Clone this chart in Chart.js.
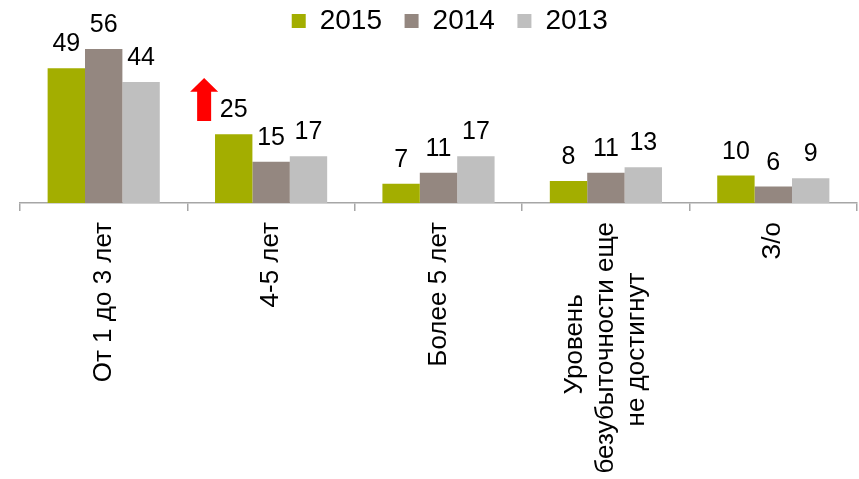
<!DOCTYPE html>
<html>
<head>
<meta charset="utf-8">
<script src="https://cdn.jsdelivr.net/npm/chart.js@4"></script>
<style>
body { margin: 0; background: #fff; }
#wrap { width: 859px; height: 479px; }
</style>
</head>
<body>
<div id="wrap"><canvas id="chart" width="859" height="479"></canvas></div>
<script>
// data
const categories = [
    ['От 1 до 3 лет'],
    ['4-5 лет'],
    ['Более 5 лет'],
    ['Уровень', 'безубыточности еще', 'не достигнут'],
    ['З/о']
];
const years = ['2015', '2014', '2013'];
const values2015 = [49, 25, 7, 8, 10];
const values2014 = [56, 15, 11, 11, 6];
const values2013 = [44, 17, 17, 13, 9];
const colors = ['#a3ae00', '#948780', '#bfbfbf'];

const family = "'Liberation Sans', Arial, sans-serif";
const nbsp = '\u00A0';

// center multi-line labels: rotated ticks are always right aligned, so pad the short lines
const measure = document.createElement('canvas').getContext('2d');
measure.font = '26px ' + family;
function centerLines(lines) {
    const widths = lines.map(l => measure.measureText(l).width);
    const maxW = Math.max(...widths);
    const sp = measure.measureText(nbsp).width;
    return lines.map((l, i) => l + nbsp.repeat(Math.round((maxW - widths[i]) / 2 / sp)));
}
// single line labels get an empty first line, so labelOffset below puts them back on the tick
const tickLabels = categories.map(c => c.length === 1 ? ['', c[0]] : centerLines(c));

// numbers above the bars
const valueLabels = {
    id: 'valueLabels',
    afterDatasetsDraw(chart) {
        const ctx = chart.ctx;
        ctx.save();
        ctx.font = '25px ' + family;
        ctx.fillStyle = '#000';
        ctx.textAlign = 'center';
        ctx.textBaseline = 'alphabetic';
        chart.data.datasets.forEach((ds, i) => {
            chart.getDatasetMeta(i).data.forEach((bar, j) => {
                ctx.fillText(ds.data[j], bar.x, bar.y - 17);
            });
        });
        ctx.restore();
    }
};

// red arrow next to "4-5 лет"
const upArrow = {
    id: 'upArrow',
    afterDatasetsDraw(chart) {
        const x = chart.scales.x, y = chart.scales.y;
        const catW = (x.right - x.left) / categories.length;
        const cx = x.getPixelForValue(1) - catW * 0.4;
        const tip = y.getPixelForValue(45.5);
        const base = y.getPixelForValue(40.5);
        const bottom = y.getPixelForValue(29.8);
        const ctx = chart.ctx;
        ctx.save();
        ctx.fillStyle = '#ff0000';
        ctx.beginPath();
        ctx.moveTo(cx, tip);
        ctx.lineTo(cx + 14, base);
        ctx.lineTo(cx + 7, base);
        ctx.lineTo(cx + 7, bottom);
        ctx.lineTo(cx - 7, bottom);
        ctx.lineTo(cx - 7, base);
        ctx.lineTo(cx - 14, base);
        ctx.closePath();
        ctx.fill();
        ctx.restore();
    }
};

// nudge the legend a bit right, like the original
const legendShift = {
    id: 'legendShift',
    afterLayout(chart) {
        chart.legend.left += 19;
        chart.legend.right += 19;
    }
};

const ctx = document.getElementById('chart').getContext('2d');
new Chart(ctx, {
    type: 'bar',
    data: {
        labels: tickLabels,
        datasets: [
            { label: years[0], data: values2015, backgroundColor: colors[0] },
            { label: years[1], data: values2014, backgroundColor: colors[1] },
            { label: years[2], data: values2013, backgroundColor: colors[2] }
        ]
    },
    options: {
        responsive: false,
        animation: false,
        categoryPercentage: 0.67,
        barPercentage: 1,
        layout: { padding: { left: 20, right: 2, top: 0, bottom: 0 } },
        plugins: {
            tooltip: { enabled: false },
            legend: {
                position: 'top',
                labels: {
                    boxWidth: 14,
                    boxHeight: 14,
                    padding: 7,
                    color: '#000',
                    font: { size: 28, family: family },
                    generateLabels: (chart) => Chart.defaults.plugins.legend.labels.generateLabels(chart)
                        .map(item => Object.assign(item, { text: item.text + nbsp + nbsp }))
                }
            }
        },
        scales: {
            x: {
                afterFit: (scale) => { scale.height = 276; },
                border: { display: true, color: '#a6a6a6', width: 1.5 },
                grid: { display: true, drawOnChartArea: false, drawTicks: true, tickLength: 8, color: '#a6a6a6', lineWidth: 1.5 },
                ticks: {
                    autoSkip: false,
                    minRotation: 90,
                    maxRotation: 90,
                    padding: 11,
                    labelOffset: -31.2,
                    color: '#000',
                    font: { size: 26, family: family, lineHeight: 1.2 }
                }
            },
            y: {
                display: false,
                min: 0,
                max: 57.5
            }
        }
    },
    plugins: [valueLabels, upArrow, legendShift]
});
</script>
</body>
</html>
